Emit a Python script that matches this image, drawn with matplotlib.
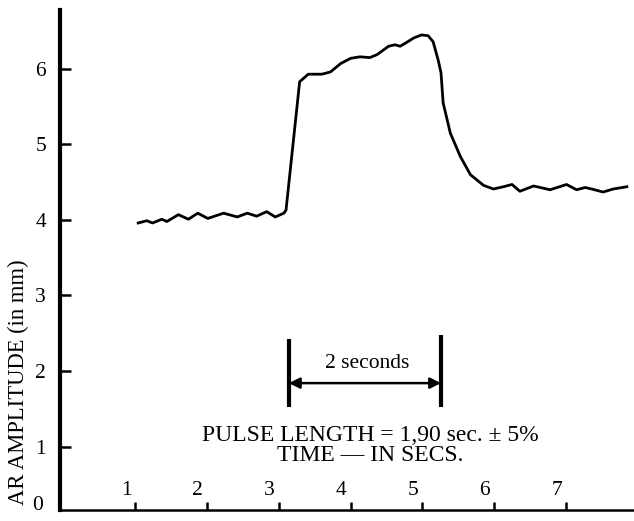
import matplotlib
matplotlib.use("Agg")
import matplotlib.pyplot as plt
import matplotlib.transforms as mtransforms

plt.rcParams['font.family'] = ['Liberation Serif', 'DejaVu Serif']

# Data
time_s = [1.04, 1.16, 1.24, 1.37, 1.44, 1.60, 1.74, 1.87, 2.01, 2.23, 2.42, 2.56, 2.69,
          2.83, 2.95, 3.07, 3.10, 3.29, 3.41, 3.60, 3.72, 3.86, 4.00, 4.13, 4.27, 4.37,
          4.53, 4.62, 4.69, 4.78, 4.88, 4.99, 5.08, 5.15, 5.22, 5.26, 5.29, 5.39, 5.53,
          5.67, 5.85, 5.99, 6.13, 6.25, 6.36, 6.55, 6.69, 6.78, 7.01, 7.15, 7.27, 7.36,
          7.52, 7.66, 7.85]
amplitude = [3.96, 3.99, 3.96, 4.01, 3.98, 4.07, 4.01, 4.09, 4.02, 4.09, 4.04, 4.09, 4.05,
             4.11, 4.04, 4.09, 4.13, 5.83, 5.93, 5.93, 5.96, 6.07, 6.14, 6.16, 6.15, 6.19,
             6.30, 6.32, 6.30, 6.35, 6.41, 6.45, 6.44, 6.36, 6.12, 5.95, 5.55, 5.15, 4.84,
             4.60, 4.46, 4.41, 4.44, 4.47, 4.38, 4.45, 4.42, 4.40, 4.47, 4.40, 4.43, 4.41,
             4.37, 4.41, 4.44]

x_ticks = [1, 2, 3, 4, 5, 6, 7]
x_tick_labels = ["1", "2", "3", "4", "5", "6", "7"]
y_ticks = [1, 2, 3, 4, 5, 6]
y_tick_labels = ["1", "2", "3", "4", "5", "6"]

marker_start = 3.14
marker_end = 5.26
marker_low = 1.52
marker_high = 2.48
arrow_level = 1.84
marker_label = "2 seconds"

ylabel = "AR AMPLITUDE (in mm)"
note1 = "PULSE LENGTH = 1,90 sec. \u00b1 5%"
note2 = "TIME \u2014 IN SECS."

fig = plt.figure(figsize=(6.34, 5.21), dpi=100)
ax = fig.add_axes([60 / 634, 11 / 521, 574 / 634, 500 / 521])

ax.plot(time_s, amplitude, color='black', lw=2.0, solid_joinstyle='round')

ax.set_xlim(-0.05, 7.95)
ax.set_ylim(0.16, 6.78)

for s in ['top', 'right']:
    ax.spines[s].set_visible(False)
ax.spines['left'].set_linewidth(3.0)
ax.spines['bottom'].set_linewidth(1.8)

ax.set_yticks(y_ticks)
ax.set_yticklabels(y_tick_labels, fontsize=15.5)
ax.tick_params(axis='y', direction='in', length=8, width=1.8, pad=10)

ax.set_xticks(x_ticks)
ax.set_xticklabels([])
ax.tick_params(axis='x', direction='in', length=6, width=1.8)

trans = mtransforms.blended_transform_factory(ax.transData, ax.transAxes)
for xv, lab in zip(x_ticks, x_tick_labels):
    ax.text(xv - 0.13, 0.02, lab, transform=trans, fontsize=15.5,
            ha='center', va='bottom')

ax.text(-0.03, 0.01, "0", transform=ax.transAxes, fontsize=15.5, ha='right', va='center')

# 2 seconds marker
ax.vlines([marker_start, marker_end], [marker_low, marker_low], [marker_high - 0.06, marker_high],
          colors='black', lw=3.0)
ax.annotate('', xy=(marker_end, arrow_level), xytext=(marker_start, arrow_level),
            arrowprops=dict(arrowstyle='<|-|>', color='black', lw=1.8,
                            shrinkA=0, shrinkB=0, mutation_scale=16))
ax.text((marker_start + marker_end) / 2 + 0.03, arrow_level + 0.14, marker_label,
        fontsize=15.5, ha='center', va='bottom')

ax.text(4.28, 1.15, note1, fontsize=17, ha='center', va='center')
ax.text(4.28, 0.88, note2, fontsize=17, ha='center', va='center')

fig.text(18 / 634, 1 - 382 / 521, ylabel, rotation=90, fontsize=16.3,
         ha='center', va='center')

fig.savefig('out.png', dpi=100)
